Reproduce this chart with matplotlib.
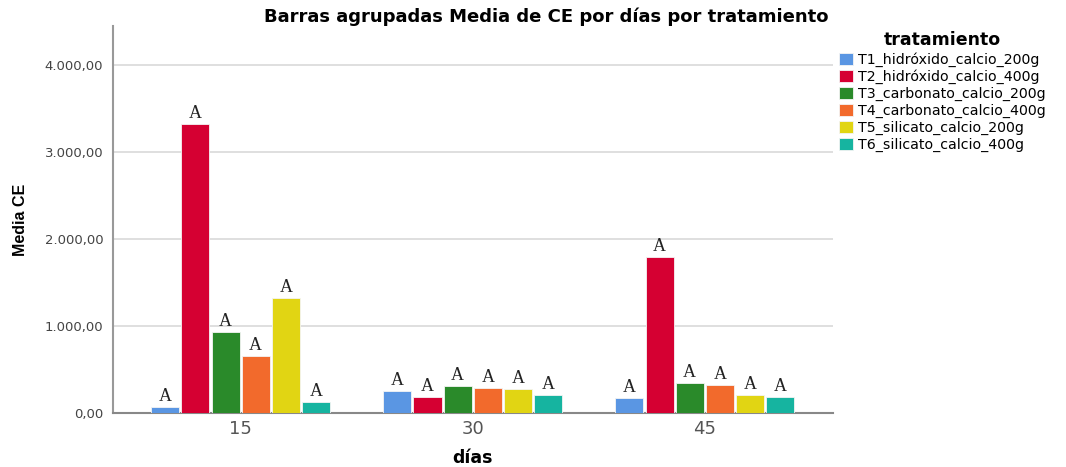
import matplotlib
matplotlib.use("Agg")
import matplotlib.pyplot as plt
import numpy as np
from matplotlib.ticker import FuncFormatter

plt.rcParams['font.family'] = ['DejaVu Sans']

dias = ["15", "30", "45"]
tratamientos = ["T1_hidróxido_calcio_200g", "T2_hidróxido_calcio_400g",
                "T3_carbonato_calcio_200g", "T4_carbonato_calcio_400g",
                "T5_silicato_calcio_200g", "T6_silicato_calcio_400g"]
T1 = [69, 259, 172]
T2 = [3318, 187, 1793]
T3 = [929, 310, 352]
T4 = [654, 290, 321]
T5 = [1326, 279, 214]
T6 = [133, 206, 183]
series = [T1, T2, T3, T4, T5, T6]
letras = ["A"] * 6
colors = ["#5A96E3", "#D50032", "#2A8A2A", "#F26A2C", "#E1D513", "#16B4A0"]

fig = plt.figure(figsize=(10.66, 4.67), dpi=100)
ax = fig.add_axes([0.106, 0.115, 0.675, 0.829])

x = np.arange(len(dias))
slot = 0.78 / 6
bw = slot * 0.93
for i, (vals, c) in enumerate(zip(series, colors)):
    pos = x - 0.39 + slot * (i + 0.5)
    ax.bar(pos, vals, width=bw, color=c, edgecolor="#f4f4f4", linewidth=0.6,
           label=tratamientos[i], zorder=3)
    for p, v in zip(pos, vals):
        ax.annotate(letras[i], (p, v), xytext=(0, 1.5), textcoords="offset points",
                    ha="center", va="bottom", fontsize=13,
                    family=["Liberation Serif", "DejaVu Serif"], color="#222222")

ax.set_xlim(-0.55, 2.55)
ax.set_ylim(0, 4440)
ax.set_yticks([0, 1000, 2000, 3000, 4000])
ax.yaxis.set_major_formatter(FuncFormatter(
    lambda v, p: f"{v:,.2f}".replace(",", "X").replace(".", ",").replace("X", ".")))
ax.set_xticks(x)
ax.set_xticklabels(dias)
ax.tick_params(axis="y", labelsize=9.5, colors="#444444", length=0, pad=7)
ax.tick_params(axis="x", labelsize=13, colors="#555555", length=0, pad=5)
ax.grid(axis="y", color="#d9d9d9", linewidth=1.2, zorder=0)
for s in ["top", "right"]:
    ax.spines[s].set_visible(False)
ax.spines["left"].set_color("#999999")
ax.spines["left"].set_linewidth(1.5)
ax.spines["bottom"].set_color("#888888")
ax.spines["bottom"].set_linewidth(1.5)

ax.set_ylabel("Media CE", fontsize=11.5, fontweight="bold",
              family=["Liberation Sans", "DejaVu Sans"])
ax.yaxis.set_label_coords(-0.118, 0.5)
ax.set_xlabel("días", fontsize=12.5, fontweight="bold")
ax.xaxis.set_label_coords(0.5, -0.092)
fig.suptitle("Barras agrupadas Media de CE por días por tratamiento",
             fontsize=13, fontweight="bold", x=0.512, y=0.985)

leg = fig.legend(loc="upper left", bbox_to_anchor=(0.782, 0.945), frameon=False,
                 title="tratamiento", fontsize=10.2, handlelength=1.0, handleheight=0.95,
                 handletextpad=0.35, labelspacing=0.2, borderaxespad=0)
leg.get_title().set_fontweight("bold")
leg.get_title().set_fontsize(12.5)

fig.savefig("out.png", dpi=100)
